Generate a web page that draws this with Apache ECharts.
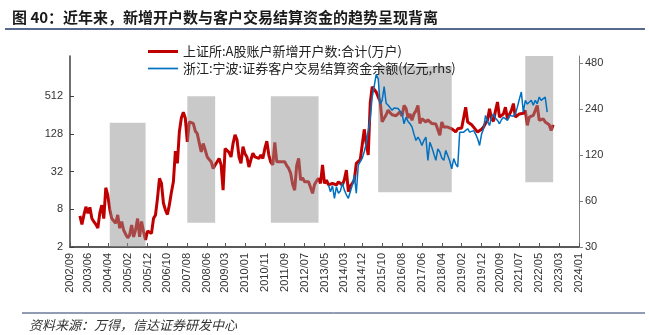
<!DOCTYPE html>
<html>
<head>
<meta charset="utf-8">
<script src="https://cdn.jsdelivr.net/npm/echarts@6/dist/echarts.min.js"></script>
<style>
html,body{margin:0;padding:0;background:#fff;}
#chart{width:649px;height:335px;}
</style>
</head>
<body>
<div id="chart"></div>
<script>
// ---- data ----
const firstMonth = '2002/09';
const lastMonth = '2024/01';
const xTickLabels = ['2002/09','2003/06','2004/04','2005/02','2005/12','2006/10','2007/08','2008/06','2009/03','2010/01','2010/11','2011/09','2012/07','2013/05','2014/03','2014/12','2015/10','2016/08','2017/06','2018/04','2019/02','2019/12','2020/09','2021/07','2022/05','2023/03','2024/01'];
const leftTicks = [2, 8, 32, 128, 512];
const rightTicks = [30, 60, 120, 240, 480];

const redName = '上证所:A股账户新增开户数:合计(万户)';
const redStart = '2003/02';
const redValues = [
  6.3, 4.6, 6.5, 8.8, 6.9, 8.6, 5.7, 5.1, 4.6, 4.0,
  7.0, 9.3, 5.7, 17.7, 13.5, 8.0, 5.7, 6.1, 4.8, 6.5,
  4.0, 5.1, 3.7, 3.2, 2.8, 3.1, 4.5, 2.9, 3.8, 5.7,
  2.9, 5.1, 3.5, 2.6, 3.6, 3.4, 3.3, 5.7, 6.5, 12,
  25, 20.8, 10, 7.8, 6.6, 9.5, 15, 22, 68, 43.5,
  139, 230, 284, 228, 96, 200, 195, 189, 143, 130,
  124, 66, 90, 71, 55, 50, 46, 36, 41, 46,
  52, 41, 16.2, 75, 74, 65, 55, 90, 124, 103,
  55, 43.5, 80, 62, 55, 38, 50, 63, 55, 53,
  52, 59, 52, 75, 98, 59, 45, 41, 94, 46,
  47, 46, 43.5, 46, 40, 36, 30, 20, 16.2, 40,
  52, 23.5, 25.5, 22, 20.8, 22, 23.5, 14.4, 20, 22.7,
  25, 20.8, 41, 20.8, 23.5, 19.6, 21, 20.8, 20, 19.6,
  22, 20.5, 19.6, 24, 34, 15.3, 19, 20.8, 23.5, 43.5,
  46, 50, 52, 152, 90, 59, 400, 727, 727, 600,
  500, 420, 200, 189, 260, 308, 280, 260, 272, 250,
  242, 290, 248, 366, 330, 230, 268, 212, 268, 300,
  366, 188, 224, 210, 199, 215, 224, 188, 199, 185,
  176, 122, 199, 165, 168, 165, 160, 155, 146, 138,
  155, 146, 160, 172, 343, 199, 185, 180, 165, 150,
  138, 145, 152, 165, 190, 212, 323, 224, 205, 300,
  415, 238, 255, 268, 343, 224, 260, 305, 392, 238,
  255, 268, 275, 275, 305, 176, 238, 245, 253, 268,
  366, 212, 218, 224, 199, 212, 180, 146, 180
];

const blueName = '浙江:宁波:证券客户交易结算资金余额(亿元,rhs)';
const blueStart = '2013/07';
const blueValues = [
  76.5, 69, 75.7, 62.6, 74.6, 67.5, 70, 78.5, 70.8, 66,
  62.6, 64.1, 76.5, 89, 67.5, 103.5, 108.8, 115, 126.5, 143.6,
  140, 210, 290, 340, 407, 380, 260, 275, 338, 263,
  255, 250, 237, 245, 250, 243, 240, 225, 193, 213,
  200, 193, 184, 165, 150, 158, 150, 139, 150, 158,
  111, 146, 135, 132, 111, 132, 126, 115, 111, 129,
  126, 110, 97.8, 114, 105, 100.4, 170, 168, 170, 175,
  179, 170, 166, 174, 165, 154, 139, 165, 179, 219,
  200, 188, 213, 224, 210, 203, 193, 205, 213, 208,
  203, 219, 213, 216, 224, 248, 280, 312, 230, 275,
  260, 255, 275, 255, 275, 261, 289, 275, 282, 289,
  230
];
// shaded periods: [start month, end month, low value, high value] on left axis
const shadeBands = [
  ['2004/05', '2005/11', 1.8, 194],
  ['2007/08', '2008/10', 4.9, 512],
  ['2011/02', '2013/02', 4.9, 512],
  ['2015/08', '2018/09', 15, 1562],
  ['2021/10', '2022/12', 21.6, 2283]
];

// ---- build ----
function monthList(a, b) {
  let [y, m] = a.split('/').map(Number);
  const [y2, m2] = b.split('/').map(Number);
  const out = [];
  while (y < y2 || (y === y2 && m <= m2)) {
    out.push(y + '/' + String(m).padStart(2, '0'));
    m++; if (m > 12) { m = 1; y++; }
  }
  return out;
}
const categories = monthList(firstMonth, lastMonth);
function align(start, vals) {
  const idx = categories.indexOf(start);
  return categories.map((c, i) => (i >= idx && i - idx < vals.length) ? vals[i - idx] : null);
}
const tickSet = new Set(xTickLabels);

const chart = echarts.init(document.getElementById('chart'), null, {renderer: 'canvas'});
const font = 'Liberation Sans, Arial, sans-serif';
const cjk = '"Noto Sans CJK SC", sans-serif';
chart.setOption({
  animation: false,
  backgroundColor: '#fff',
  title: [
    {text: '图 40：近年来，新增开户数与客户交易结算资金的趋势呈现背离', left: 7, top: 5,
     textStyle: {fontFamily: cjk, fontSize: 15, fontWeight: 'bold', color: '#1a1a1a'}},
    {text: '资料来源：万得，信达证券研发中心', left: 24, top: 314,
     textStyle: {fontFamily: cjk, fontSize: 13, fontStyle: 'italic', fontWeight: 'normal', color: '#333'}}
  ],
  graphic: [
    {type: 'line', shape: {x1: 5, y1: 29, x2: 645, y2: 29}, style: {stroke: '#1F3864', lineWidth: 1.5}},
    {type: 'line', shape: {x1: 22, y1: 313, x2: 645, y2: 313}, style: {stroke: '#1F3864', lineWidth: 1}}
  ],
  legend: {
    orient: 'vertical', left: 143, top: 40, itemWidth: 30, itemHeight: 3, itemGap: 4,
    textStyle: {fontFamily: cjk, fontSize: 13, color: '#222'},
    data: [
      {name: redName, icon: 'path://M0 0H30V3H0Z'},
      {name: blueName, icon: 'path://M0 0H30V1.7H0Z'}
    ]
  },
  grid: {left: 70, right: 70, top: 56, bottom: 88},
  xAxis: {
    type: 'category', data: categories, boundaryGap: false,
    axisLine: {lineStyle: {color: '#595959', width: 2}},
    axisTick: {inside: true, length: 4, interval: (i, v) => tickSet.has(v), lineStyle: {color: '#595959'}},
    axisLabel: {rotate: 90, interval: (i, v) => tickSet.has(v), fontFamily: font, fontSize: 11, color: '#333', margin: 6}
  },
  yAxis: [
    {type: 'log', logBase: 2, min: 2, max: 2258, position: 'left',
     splitLine: {show: false},
     axisLine: {show: true, lineStyle: {color: '#404040', width: 1.5}},
     axisTick: {show: true, inside: true, length: 4, customValues: leftTicks, lineStyle: {color: '#404040'}},
     axisLabel: {customValues: leftTicks, fontFamily: font, fontSize: 11, color: '#333', margin: 7}},
    {type: 'log', logBase: 2, min: 30, max: 537, position: 'right',
     splitLine: {show: false},
     axisLine: {show: true, lineStyle: {color: '#808080', width: 1}},
     axisTick: {show: true, inside: false, length: 4, customValues: rightTicks, lineStyle: {color: '#808080'}},
     axisLabel: {customValues: rightTicks, fontFamily: font, fontSize: 11, color: '#333', margin: 6}}
  ],
  series: [
    {name: redName, type: 'line', yAxisIndex: 0, data: align(redStart, redValues), symbol: 'none', z: 2,
     lineStyle: {color: '#C00000', width: 3}, itemStyle: {color: '#C00000'}},
    {name: 'shade', type: 'line', yAxisIndex: 0, data: [], symbol: 'none', z: 3, clip: false, silent: true,
     markArea: {silent: true, z: 3, itemStyle: {color: 'rgba(144,144,144,0.49)'},
       data: shadeBands.map(b => [{xAxis: b[0], yAxis: b[2]}, {xAxis: b[1], yAxis: b[3]}])}},
    {name: blueName, type: 'line', yAxisIndex: 1, data: align(blueStart, blueValues), symbol: 'none', z: 4,
     lineStyle: {color: '#0070C0', width: 1.5}, itemStyle: {color: '#0070C0'}}
  ]
});
</script>
</body>
</html>
